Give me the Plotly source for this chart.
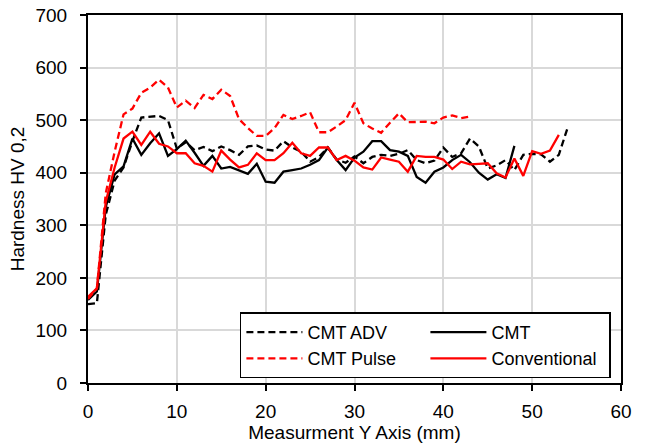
import plotly.graph_objects as go

# Hardness traverse along the Y axis (mm) for four welding processes
x_adv = list(range(0, 55))
hv_adv = [150, 152, 320, 385, 410, 460, 505, 507, 508, 500,
          446, 458, 443, 449, 441, 450, 443, 434, 450, 452,
          444, 442, 460, 448, 440, 421, 430, 448, 425, 419,
          431, 418, 430, 434, 432, 436, 443, 424, 418, 423,
          448, 430, 437, 465, 450, 408, 414, 424, 405, 434,
          436, 435, 421, 434, 486]

x_cmt = list(range(0, 49))
hv_cmt = [158, 174, 335, 397, 412, 465, 434, 456, 475, 432,
          445, 461, 438, 413, 432, 408, 411, 405, 398, 417,
          383, 381, 402, 405, 408, 415, 424, 448, 424, 405,
          429, 440, 460, 460, 443, 440, 432, 392, 381, 402,
          410, 424, 434, 420, 400, 387, 397, 390, 451]

x_pulse = list(range(0, 44))
hv_pulse = [160, 180, 361, 440, 511, 522, 552, 562, 577, 562,
            524, 537, 523, 548, 540, 558, 546, 502, 485, 470,
            470, 485, 510, 502, 508, 515, 477, 477, 488, 500,
            533, 494, 484, 476, 495, 513, 496, 497, 497, 494,
            505, 509, 504, 507]

x_conv = list(range(0, 54))
hv_conv = [164, 180, 345, 410, 465, 478, 453, 478, 455, 450,
           437, 437, 418, 413, 402, 442, 425, 410, 415, 437,
           424, 424, 437, 457, 437, 432, 448, 448, 424, 432,
           423, 410, 406, 429, 425, 421, 402, 432, 430, 430,
           425, 407, 421, 416, 417, 418, 399, 391, 427, 394,
           441, 436, 442, 472]

x_ticks = [0, 10, 20, 30, 40, 50, 60]
y_ticks = [0, 100, 200, 300, 400, 500, 600, 700]

FONT = "Liberation Sans, Arial, sans-serif"
DASH = "7px,4px"

fig = go.Figure()
fig.add_trace(go.Scatter(x=x_adv, y=hv_adv, mode="lines", name="CMT ADV",
                         line=dict(color="black", width=2.3, dash=DASH)))
fig.add_trace(go.Scatter(x=x_cmt, y=hv_cmt, mode="lines", name="CMT",
                         line=dict(color="black", width=2.3)))
fig.add_trace(go.Scatter(x=x_pulse, y=hv_pulse, mode="lines", name="CMT Pulse",
                         line=dict(color="#ff0000", width=2.3, dash=DASH)))
fig.add_trace(go.Scatter(x=x_conv, y=hv_conv, mode="lines", name="Conventional",
                         line=dict(color="#ff0000", width=2.3)))

fig.update_layout(
    width=646, height=446,
    margin=dict(l=88, r=25, t=15, b=63),
    paper_bgcolor="white", plot_bgcolor="white",
    font=dict(family=FONT, size=19, color="black"),
    showlegend=True,
    legend=dict(
        orientation="h",
        x=0.285, y=0.192, xanchor="left", yanchor="top",
        entrywidth=113, entrywidthmode="pixels",
        itemwidth=56,
        bgcolor="white", bordercolor="black", borderwidth=1.5,
        font=dict(family=FONT, size=18, color="black"),
        tracegroupgap=0,
    ),
    xaxis=dict(
        range=[0, 60], tickvals=x_ticks,
        showgrid=True, gridcolor="#d9d9d9", gridwidth=1.5,
        showline=True, linecolor="black", linewidth=2, mirror=True,
        ticks="outside", ticklen=6, tickcolor="black", tickwidth=1.5,
        ticklabelstandoff=4, automargin=False,
        zeroline=False,
        title=dict(text="Measurment Y Axis (mm)", standoff=4,
                   font=dict(family=FONT, size=19)),
        tickfont=dict(family=FONT, size=19),
    ),
    yaxis=dict(
        range=[0, 700], tickvals=y_ticks,
        showgrid=True, gridcolor="#d9d9d9", gridwidth=1.5,
        showline=True, linecolor="black", linewidth=2, mirror=True,
        ticks="outside", ticklen=6, tickcolor="black", tickwidth=1.5,
        ticklabelstandoff=9, automargin=False,
        zeroline=False,
        title=dict(text="Hardness HV 0,2", standoff=6,
                   font=dict(family=FONT, size=19)),
        tickfont=dict(family=FONT, size=19),
    ),
)

fig.write_html("out.html")
